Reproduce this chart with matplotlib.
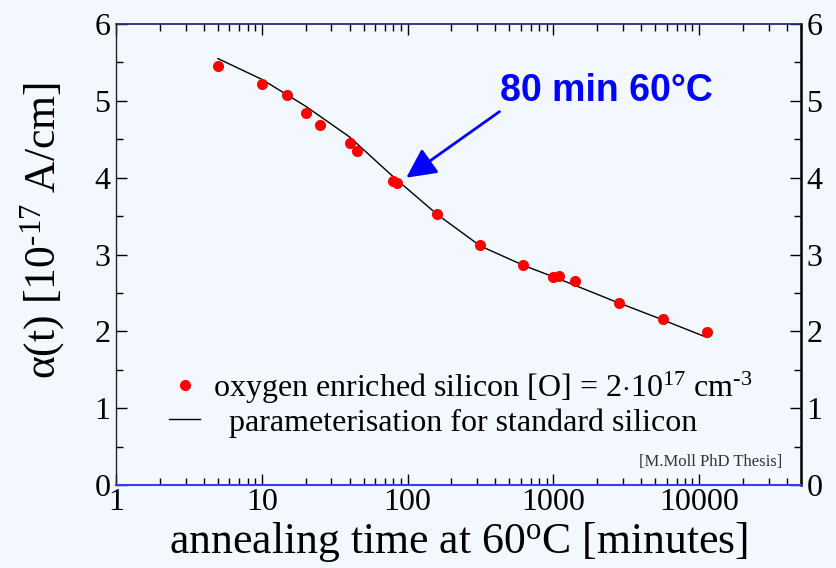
import matplotlib
matplotlib.use("Agg")
import matplotlib.pyplot as plt
from matplotlib.ticker import MultipleLocator, NullFormatter

plt.rcParams["font.family"] = ["Liberation Serif", "DejaVu Serif"]
plt.rcParams["mathtext.fontset"] = "custom"
plt.rcParams["mathtext.rm"] = "Liberation Serif"
plt.rcParams["mathtext.it"] = "Liberation Serif:italic"

# measured points: oxygen enriched silicon
t_meas = [5, 10, 15, 20, 25, 40, 45, 80, 85, 158, 316, 623, 1000, 1100, 1415, 2830, 5670, 11350]
alpha_meas = [5.46, 5.22, 5.07, 4.84, 4.69, 4.45, 4.35, 3.96, 3.93, 3.53, 3.13, 2.86,
              2.71, 2.72, 2.66, 2.37, 2.16, 1.99]

# parameterisation for standard silicon
t_param = [5, 10, 20, 40, 80, 160, 316, 640, 1000, 1280, 2560, 5120, 11350]
alpha_param = [5.55, 5.28, 4.93, 4.53, 4.01, 3.52, 3.11, 2.85, 2.71, 2.63, 2.40, 2.18, 1.92]

x_ticks = [1, 10, 100, 1000, 10000]
x_ticklabels = ["1", "10", "100", "1000", "10000"]

bg = "#f3f7fe"
fig = plt.figure(figsize=(8.36, 5.68), dpi=100, facecolor=bg)
ax = fig.add_axes([0.1388, 0.1461, 0.8194, 0.8116], facecolor=bg)

ax.plot(t_param, alpha_param, color="black", lw=1.0,
        label="  parameterisation for standard silicon")
ax.plot(t_meas, alpha_meas, "o", color="#ff0000", ms=8, mec="none",
        label=r"oxygen enriched silicon [O] = 2$\cdot$10$^{17}$ cm$^{\text{-3}}$")

ax.set_xscale("log")
ax.set_xlim(1, 50000)
ax.set_ylim(0, 6)
ax.set_xticks(x_ticks)
ax.set_xticklabels(x_ticklabels)
ax.xaxis.set_minor_formatter(NullFormatter())
ax.yaxis.set_major_locator(MultipleLocator(1))
ax.yaxis.set_minor_locator(MultipleLocator(0.5))

ax.tick_params(which="both", direction="in", top=True, right=True,
               labelright=True, labelsize=23, width=1.0)
ax.tick_params(which="major", length=8)
ax.tick_params(which="minor", length=5)
ax.tick_params(axis="x", pad=2)
ax.tick_params(axis="y", pad=4)

ax.spines["bottom"].set_color("#3a3aff")
ax.spines["bottom"].set_linewidth(1.5)
ax.spines["top"].set_color("#2a2a80")
ax.spines["top"].set_linewidth(1.3)
ax.spines["left"].set_color("#222222")
ax.spines["left"].set_linewidth(1.0)
ax.spines["right"].set_color("black")
ax.spines["right"].set_linewidth(1.8)

ax.set_xlabel(r"annealing time at 60$^{\mathrm{o}}$C [minutes]", fontsize=31.5, labelpad=2)
ax.set_ylabel(r"α(t) [10$^{\text{-17}}$ A/cm]", fontsize=31.5)
ax.yaxis.set_label_coords(-0.072, 0.553)

handles, labels = ax.get_legend_handles_labels()
ax.legend(handles[::-1], labels[::-1], loc="lower left", bbox_to_anchor=(0.058, 0.075),
          frameon=False, fontsize=23, handlelength=1.0, handletextpad=0.4,
          labelspacing=0.08, borderaxespad=0)

ax.text(0.972, 0.05, "[M.Moll PhD Thesis]", transform=ax.transAxes,
        ha="right", va="center", fontsize=12, color="#333333")

ax.text(2300, 5.13, "80 min 60°C", fontsize=27, fontweight="bold", color="#0000ff",
        family=["Liberation Sans", "DejaVu Sans"], ha="center", va="center")
ax.annotate("", xy=(98, 4.0), xytext=(427, 4.86),
            arrowprops=dict(arrowstyle="-|>,head_length=1.0,head_width=0.5",
                            color="#0000ff", lw=2, mutation_scale=18,
                            shrinkA=0, shrinkB=0))

fig.savefig("out.png", dpi=100, facecolor=bg)
